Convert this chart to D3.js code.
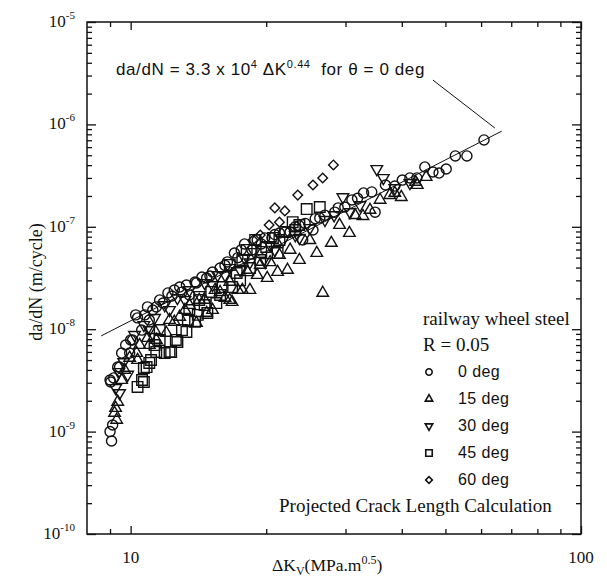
<!DOCTYPE html>
<html>
<head>
<meta charset="utf-8">
<script src="https://cdn.jsdelivr.net/npm/d3@7"></script>
<style>
  body { margin: 0; background: #fff; }
  text { white-space: pre; }
</style>
</head>
<body>
<script>
// values: [deltaK (MPa.m^0.5), da/dN (m/cycle)]
var deg0 = [
    [9.07, 8.1e-10], [9.0, 1.0e-9], [9.12, 1.16e-9], [9.03, 3.05e-9], [9.17, 3.34e-9],
    [9.36, 4.27e-9], [9.0, 3.19e-9], [9.45, 4.27e-9], [9.55, 5.85e-9], [9.95, 5.85e-9],
    [10.1, 7.85e-9], [10.58, 9.8e-9], [10.0, 7.85e-9], [10.26, 1.38e-8], [10.36, 1.29e-8],
    [10.9, 1.65e-8], [11.4, 1.65e-8], [12.1, 2.26e-8], [12.85, 2.58e-8], [13.3, 2.7e-8],
    [14.4, 3.23e-8], [14.75, 3.16e-8], [15.8, 3.96e-8], [17.0, 5.55e-8], [17.6, 5.95e-8],
    [18.6, 5.95e-8], [11.6, 1.93e-8], [12.5, 2.41e-8], [13.9, 2.89e-8], [15.2, 3.62e-8],
    [16.4, 4.54e-8], [17.9, 6.8e-8], [19.1, 7.44e-8], [19.85, 7.78e-8], [20.9, 8.4e-8],
    [22.0, 8.9e-8], [23.2, 1.0e-7], [24.4, 1.08e-7], [25.7, 1.2e-7], [27.0, 1.3e-7],
    [28.9, 1.53e-7], [29.9, 1.56e-7], [31.0, 1.83e-7], [32.9, 2.14e-7], [34.3, 2.19e-7],
    [36.8, 2.56e-7], [40.1, 2.86e-7], [43.2, 3.0e-7], [45.0, 3.84e-7], [46.9, 3.43e-7],
    [48.4, 3.35e-7], [50.2, 3.67e-7], [52.6, 4.92e-7], [55.8, 4.92e-7], [60.9, 7.05e-7],
    [34.9, 1.39e-7], [25.4, 9.3e-8], [24.1, 7.44e-8], [13.5, 2.16e-8], [11.0, 1.23e-8],
    [9.75, 7.0e-9], [10.75, 1.38e-8], [11.2, 1.54e-8], [11.8, 1.8e-8], [12.35, 2.11e-8],
    [13.0, 2.3e-8], [14.0, 2.83e-8], [15.0, 3.3e-8], [16.2, 4.2e-8], [17.3, 5.0e-8],
    [19.5, 6.8e-8], [20.6, 7.8e-8], [21.4, 8.7e-8], [22.6, 8.9e-8], [23.7, 1.02e-7],
    [26.3, 1.22e-7], [28.4, 1.39e-7], [31.9, 1.9e-7], [38.6, 2.5e-7], [41.7, 3.0e-7]
];
var deg15 = [
    [9.31, 1.3e-9], [9.21, 1.52e-9], [9.36, 1.95e-9], [9.26, 1.7e-9], [9.55, 3.19e-9],
    [9.95, 5.25e-9], [10.31, 5.85e-9], [10.9, 8.2e-9], [11.4, 7.85e-9], [12.0, 9.2e-9],
    [12.85, 1.32e-8], [14.0, 1.15e-8], [14.75, 1.44e-8], [15.2, 1.54e-8], [16.2, 2.02e-8],
    [16.8, 1.84e-8], [17.3, 2.41e-8], [17.7, 2.41e-8], [18.4, 2.41e-8], [19.1, 3.38e-8],
    [20.1, 3.16e-8], [21.2, 3.62e-8], [22.3, 3.79e-8], [23.7, 4.74e-8], [25.9, 5.55e-8],
    [27.9, 6.95e-8], [26.7, 2.26e-8], [30.6, 8.7e-8], [32.8, 1.27e-7], [35.8, 1.83e-7],
    [39.9, 1.95e-7], [42.9, 2.74e-7], [45.3, 3.06e-7], [13.5, 1.72e-8], [12.2, 1.23e-8],
    [14.2, 1.93e-8], [15.4, 2.41e-8], [19.4, 4.24e-8], [21.4, 5.3e-8], [29.1, 1.04e-7],
    [31.5, 1.3e-7], [37.6, 2.04e-7], [10.47, 7.0e-9], [9.7, 4.0e-9], [38.6, 2.14e-7],
    [43.3, 2.56e-7], [11.3, 9.8e-9], [12.5, 1.18e-8], [13.2, 1.54e-8], [14.6, 1.93e-8],
    [15.8, 2.3e-8], [16.6, 2.9e-8], [18.2, 3.6e-8], [20.4, 4.5e-8], [22.6, 5.95e-8],
    [25.0, 7.4e-8], [10.36, 5.0e-9], [11.0, 7.0e-9], [16.6, 1.93e-8], [34.0, 1.46e-7]
];
var deg30 = [
    [9.45, 2.38e-9], [9.26, 2.67e-9], [9.41, 3.82e-9], [9.65, 4.78e-9], [10.2, 8.8e-9],
    [10.7, 1.1e-8], [11.3, 1.29e-8], [11.9, 1.72e-8], [12.7, 2.02e-8], [13.5, 2.41e-8],
    [14.6, 2.83e-8], [15.6, 3.38e-8], [16.6, 3.96e-8], [17.9, 4.96e-8], [18.8, 5.68e-8],
    [20.4, 6.65e-8], [21.8, 7.44e-8], [23.2, 8.3e-8], [25.0, 9.75e-8], [27.0, 1.17e-7],
    [29.6, 1.95e-7], [32.3, 1.63e-7], [36.4, 3.0e-7], [35.2, 3.67e-7], [38.6, 2.39e-7],
    [41.7, 2.68e-7], [28.3, 1.3e-7], [19.9, 4.54e-8], [17.5, 3.79e-8], [14.2, 2.16e-8],
    [11.0, 9.8e-9], [12.2, 1.54e-8], [13.2, 1.93e-8], [15.2, 2.7e-8], [16.2, 3.38e-8],
    [18.4, 4.5e-8], [20.9, 5.95e-8], [23.7, 7.8e-8], [30.7, 1.39e-7], [9.85, 3.6e-9]
];
var deg45 = [
    [24.6, 1.49e-7], [26.3, 1.56e-7], [22.9, 1.11e-7], [23.7, 1.04e-7], [22.0, 8.89e-8],
    [20.7, 7.78e-8], [20.0, 6.35e-8], [21.2, 5.55e-8], [19.4, 4.74e-8], [18.1, 5.95e-8],
    [17.7, 4.74e-8], [17.2, 3.54e-8], [16.8, 2.58e-8], [16.0, 2.58e-8], [15.5, 1.8e-8],
    [14.8, 1.44e-8], [14.1, 1.38e-8], [13.3, 9.4e-9], [12.7, 7.5e-9], [12.2, 6.0e-9],
    [11.4, 6.0e-9], [11.1, 5.0e-9], [10.85, 4.27e-9], [10.6, 3.19e-9], [10.36, 2.73e-9],
    [10.7, 4.18e-9], [11.0, 4.68e-9], [11.9, 5.85e-9], [12.3, 6.0e-9], [12.6, 7.85e-9],
    [13.0, 9.8e-9], [13.4, 1.23e-8], [10.7, 3.05e-9], [14.2, 1.93e-8], [15.1, 2.31e-8],
    [18.9, 7.44e-8], [16.6, 4.24e-8], [13.9, 1.18e-8], [11.6, 7.85e-9], [11.6, 9.8e-9],
    [13.5, 1.54e-8], [14.6, 1.72e-8], [15.8, 2.16e-8], [17.5, 3.0e-8], [18.4, 3.96e-8],
    [19.5, 5.68e-8], [21.4, 7.44e-8], [23.2, 9.3e-8], [11.3, 7.0e-9]
];
var deg60 = [
    [28.2, 4.02e-7], [26.7, 3.0e-7], [25.4, 2.56e-7], [23.5, 2.04e-7], [22.0, 1.43e-7],
    [20.9, 1.53e-7], [21.4, 1.11e-7], [20.3, 1.04e-7], [19.4, 8.3e-8], [18.7, 7.44e-8]
];

// fitted line end points and the annotation leader
var fitK = [8.6, 66.7];
var fitRate = [8.6e-9, 8.6e-7];
var leaderK = [46.9, 64.4];
var leaderRate = [2.71e-6, 9.2e-7];

// axes
var xMajor = [10, 100];
var xMinor = [9, 20, 30, 40, 50, 60, 70, 80, 90];
var xLabels = ['10', '100'];
var yExp = [-10, -9, -8, -7, -6, -5];
var yMultipliers = [2, 3, 4, 5, 6, 7, 8, 9];

var legendLabels = ['0 deg', '15 deg', '30 deg', '45 deg', '60 deg'];

var serif = "'Liberation Serif', 'DejaVu Serif', serif",
    sans = "'Liberation Sans', Arial, sans-serif",
    ink = '#111';

var W = 607, H = 580;
var plotL = 87, plotR = 581, plotT = 22, plotB = 534;

var svg = d3.select('body').append('svg')
        .attr('width', W)
        .attr('height', H);

var x = d3.scaleLog().domain([8, 100]).range([plotL, plotR]);
var y = d3.scaleLog().domain([1e-10, 1e-5]).range([plotB, plotT]);

var yMajor = yExp.map(function(e) { return Math.pow(10, e); });
var yMinor = [];
yExp.slice(0, -1).forEach(function(e) {
    yMultipliers.forEach(function(m) { yMinor.push(m * Math.pow(10, e)); });
});

// ticks on all four sides, pointing inward
function tickAxis(axisFn, scale, values, len, tx, ty) {
    var g = svg.append('g')
            .attr('transform', 'translate(' + tx + ',' + ty + ')')
            .call(axisFn(scale).tickValues(values).tickSize(-len).tickSizeOuter(0).tickFormat(''));
    g.select('.domain').remove();
    g.selectAll('line').attr('stroke', ink).attr('stroke-width', 1.3);
}
tickAxis(d3.axisBottom, x, xMajor, 8, 0, plotB);
tickAxis(d3.axisBottom, x, xMinor, 5, 0, plotB);
tickAxis(d3.axisTop, x, xMajor, 8, 0, plotT);
tickAxis(d3.axisTop, x, xMinor, 5, 0, plotT);
tickAxis(d3.axisLeft, y, yMajor, 9, plotL, 0);
tickAxis(d3.axisLeft, y, yMinor, 5, plotL, 0);
tickAxis(d3.axisRight, y, yMajor, 9, plotR, 0);
tickAxis(d3.axisRight, y, yMinor, 5, plotR, 0);

// frame
svg.append('rect')
        .attr('x', plotL)
        .attr('y', plotT)
        .attr('width', plotR - plotL)
        .attr('height', plotB - plotT)
        .attr('fill', 'none')
        .attr('stroke', ink)
        .attr('stroke-width', 1.5);

// x tick labels
svg.selectAll('.xlab').data(xMajor).enter()
    .append('text')
        .attr('x', function(d) { return x(d); })
        .attr('y', 563)
        .attr('text-anchor', 'middle')
        .attr('fill', ink)
        .style('font-family', serif)
        .style('font-size', '17px')
        .text(function(d, i) { return xLabels[i]; });

// y tick labels 10^n
var ylab = svg.selectAll('.ylab').data(yExp).enter()
    .append('text')
        .attr('x', 75)
        .attr('y', function(d) { return y(Math.pow(10, d)) + 5; })
        .attr('text-anchor', 'end')
        .attr('fill', ink)
        .style('font-family', serif)
        .style('font-size', '17px');
ylab.append('tspan').text('10');
ylab.append('tspan')
        .attr('dy', -8)
        .style('font-size', '11px')
        .text(function(d) { return '-' + Math.abs(d); });

// axis titles
svg.append('text')
        .attr('transform', 'translate(42,' + 282 + ') rotate(-90)')
        .attr('text-anchor', 'middle')
        .attr('fill', ink)
        .style('font-family', serif)
        .style('font-size', '18px')
        .text('da/dN (m/cycle)');

var xt = svg.append('text')
        .attr('x', 272)
        .attr('y', 571)
        .attr('fill', ink)
        .style('font-family', serif)
        .style('font-size', '17.5px');
xt.append('tspan').text('\u0394K');
xt.append('tspan').attr('dy', 4).style('font-size', '12px').text('V');
xt.append('tspan').attr('dy', -4).text('(MPa.m');
xt.append('tspan').attr('dy', -7).style('font-size', '12px').text('0.5');
xt.append('tspan').attr('dy', 7).text(')');

// fitted line
svg.append('line')
        .attr('x1', x(fitK[0])).attr('y1', y(fitRate[0]))
        .attr('x2', x(fitK[1])).attr('y2', y(fitRate[1]))
        .attr('stroke', ink)
        .attr('stroke-width', 1);

// leader from equation to line
svg.append('line')
        .attr('x1', x(leaderK[0])).attr('y1', y(leaderRate[0]))
        .attr('x2', x(leaderK[1])).attr('y2', y(leaderRate[1]))
        .attr('stroke', ink)
        .attr('stroke-width', 1);

// equation
var eq = svg.append('text')
        .attr('x', 116)
        .attr('y', 75)
        .attr('fill', ink)
        .style('font-family', sans)
        .style('font-size', '17px')
        .style('letter-spacing', '0.6px');
eq.append('tspan').text('da/dN = 3.3 x 10');
eq.append('tspan').attr('dy', -7).style('font-size', '11px').text('4');
eq.append('tspan').attr('dy', 7).text(' \u0394K');
eq.append('tspan').attr('dy', -7).style('font-size', '11px').text('0.44');
eq.append('tspan').attr('dy', 7).text('  for \u03b8 = 0 deg');

// markers
var shapes = [
    { data: deg0, type: d3.symbolCircle, size: 80, rot: 0 },
    { data: deg15, type: d3.symbolTriangle, size: 58, rot: 0 },
    { data: deg30, type: d3.symbolTriangle, size: 58, rot: 180 },
    { data: deg45, type: d3.symbolSquare, size: 112, rot: 0 },
    { data: deg60, type: d3.symbolSquare, size: 46, rot: 45 }
];

shapes.forEach(function(s) {
    svg.append('g').selectAll('path').data(s.data).enter()
        .append('path')
            .attr('d', d3.symbol().type(s.type).size(s.size))
            .attr('transform', function(d) {
                return 'translate(' + x(d[0]) + ',' + y(d[1]) + ') rotate(' + s.rot + ')';
            })
            .attr('fill', 'none')
            .attr('stroke', ink)
            .attr('stroke-width', 1.4);
});

// legend
svg.append('text')
        .attr('x', 423).attr('y', 325)
        .attr('fill', ink)
        .style('font-family', serif)
        .style('font-size', '19px')
        .text('railway wheel steel');
svg.append('text')
        .attr('x', 423).attr('y', 351)
        .attr('fill', ink)
        .style('font-family', serif)
        .style('font-size', '19px')
        .text('R = 0.05');

var legendSizes = [32, 24, 24, 42, 22];
legendLabels.forEach(function(lab, i) {
    var ly = 377 + i * 27;
    svg.append('path')
            .attr('d', d3.symbol().type(shapes[i].type).size(legendSizes[i]))
            .attr('transform', 'translate(429,' + (ly - 5) + ') rotate(' + shapes[i].rot + ')')
            .attr('fill', 'none')
            .attr('stroke', ink)
            .attr('stroke-width', 1.6);
    svg.append('text')
            .attr('x', 458).attr('y', ly)
            .attr('fill', ink)
            .style('font-family', sans)
            .style('font-size', '16px')
            .style('letter-spacing', '0.4px')
            .text(lab);
});

svg.append('text')
        .attr('x', 279).attr('y', 512)
        .attr('fill', ink)
        .style('font-family', serif)
        .style('font-size', '19px')
        .text('Projected Crack Length Calculation');
</script>
</body>
</html>
